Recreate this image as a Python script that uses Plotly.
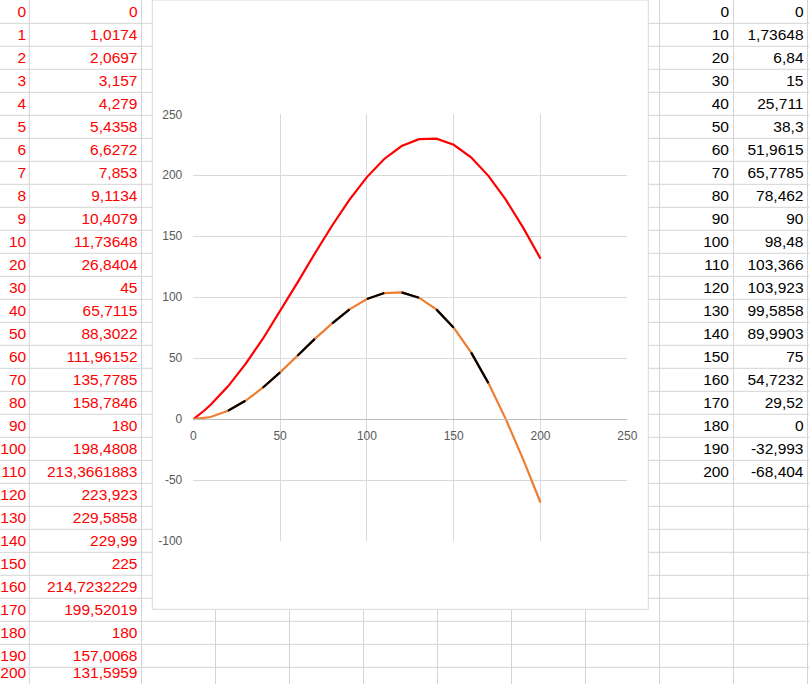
import plotly.graph_objects as go

# left block of the sheet (red curve)
red_x = [0, 1, 2, 3, 4, 5, 6, 7, 8, 9, 10,
         20, 30, 40, 50, 60, 70, 80, 90, 100, 110, 120, 130, 140, 150,
         160, 170, 180, 190, 200]
red_y = [0, 1.0174, 2.0697, 3.157, 4.279, 5.4358, 6.6272, 7.853, 9.1134, 10.4079, 11.73648,
         26.8404, 45, 65.7115, 88.3022, 111.96152, 135.7785, 158.7846, 180, 198.4808,
         213.3661883, 223.923, 229.5858, 229.99, 225, 214.7232229, 199.52019, 180,
         157.0068, 131.5959]

# right block of the sheet (orange / black curve)
org_x = [0, 10, 20, 30, 40, 50, 60, 70, 80, 90, 100,
         110, 120, 130, 140, 150, 160, 170, 180, 190, 200]
org_y = [0, 1.73648, 6.84, 15, 25.711, 38.3, 51.9615, 65.7785, 78.462, 90, 98.48,
         103.366, 103.923, 99.5858, 89.9903, 75, 54.7232, 29.52, 0, -32.993, -68.404]

# chart axis ticks
x_ticks = [0, 50, 100, 150, 200, 250]
y_ticks = [-100, -50, 0, 50, 100, 150, 200, 250]

W, H = 809, 684
ROW_H = 23.0
ROW0 = 0.3
COL_LINES = [29.3, 141.5, 215.5, 289.5, 363.5, 437.5, 511.5, 585.5, 659.5, 733.5, 807.5]
CHART = dict(x0=152.3, x1=648.3, y1=609.3)   # chart object box (top is off screen)
PLOT = dict(left=193.3, right=627.3, top=114.3, bottom=541.0)  # plot area in px
GRID = "#D4D4D4"


def cell_text(v):
    return str(v).replace(".", ",")


def sheet_lines():
    shapes = []
    n_rows = int((H - ROW0) // ROW_H) + 1
    for k in range(1, n_rows + 1):
        y = ROW0 + k * ROW_H
        if y > H:
            break
        if y < CHART["y1"]:
            spans = [(0, CHART["x0"]), (CHART["x1"], W)]
        else:
            spans = [(0, W)]
        for a, b in spans:
            shapes.append(dict(type="line", xref="x2", yref="y2", x0=a, x1=b, y0=y, y1=y,
                               line=dict(color=GRID, width=1)))
    for x in COL_LINES:
        if CHART["x0"] < x < CHART["x1"]:
            y0 = CHART["y1"]
        else:
            y0 = 0
        shapes.append(dict(type="line", xref="x2", yref="y2", x0=x, x1=x, y0=y0, y1=H,
                           line=dict(color=GRID, width=1)))
    shapes.append(dict(type="rect", xref="x2", yref="y2", x0=CHART["x0"], x1=CHART["x1"],
                       y0=0, y1=CHART["y1"], line=dict(color="#D9D9D9", width=1),
                       fillcolor="rgba(0,0,0,0)"))
    return shapes


def row_centers(n):
    # the last visible row is cut by the window; keep its text just inside the page
    return [min(ROW0 + ROW_H * k + 12.9, H - 9.5) for k in range(n)]


fig = go.Figure()

sheet_font = dict(family="Liberation Sans", size=15.5)
left_rows = row_centers(len(red_x))
right_rows = row_centers(len(org_x))
fig.add_trace(go.Scatter(x=[26.2] * len(red_x), y=left_rows, text=[cell_text(v) for v in red_x],
                         mode="text", textposition="middle left", xaxis="x2", yaxis="y2",
                         textfont=dict(color="#FF0000", **sheet_font), hoverinfo="skip"))
fig.add_trace(go.Scatter(x=[137.5] * len(red_y), y=left_rows, text=[cell_text(v) for v in red_y],
                         mode="text", textposition="middle left", xaxis="x2", yaxis="y2",
                         textfont=dict(color="#FF0000", **sheet_font), hoverinfo="skip"))
fig.add_trace(go.Scatter(x=[729] * len(org_x), y=right_rows, text=[cell_text(v) for v in org_x],
                         mode="text", textposition="middle left", xaxis="x2", yaxis="y2",
                         textfont=dict(color="#000000", **sheet_font), hoverinfo="skip"))
fig.add_trace(go.Scatter(x=[803.5] * len(org_y), y=right_rows, text=[cell_text(v) for v in org_y],
                         mode="text", textposition="middle left", xaxis="x2", yaxis="y2",
                         textfont=dict(color="#000000", **sheet_font), hoverinfo="skip"))

# chart series
fig.add_trace(go.Scatter(x=red_x, y=red_y, mode="lines",
                         line=dict(color="#FF0000", width=2.2)))
fig.add_trace(go.Scatter(x=org_x, y=org_y, mode="lines",
                         line=dict(color="#ED7D31", width=2.2)))

# every other segment from 20 to 170 is drawn black
blk_x, blk_y = [], []
for i in range(2, 17, 2):
    blk_x += [org_x[i], org_x[i + 1], None]
    blk_y += [org_y[i], org_y[i + 1], None]
fig.add_trace(go.Scatter(x=blk_x, y=blk_y, mode="lines",
                         line=dict(color="#000000", width=2.2)))

tick_font = dict(family="Liberation Sans", size=12, color="#595959")
y_zero_px = PLOT["top"] + (PLOT["bottom"] - PLOT["top"]) * 250 / 350

fig.update_layout(
    width=W, height=H,
    margin=dict(l=0, r=0, t=0, b=0, pad=0, autoexpand=False),
    paper_bgcolor="white",
    plot_bgcolor="rgba(0,0,0,0)",
    showlegend=False,
    shapes=sheet_lines(),
    xaxis=dict(domain=[PLOT["left"] / W, PLOT["right"] / W], range=[0, 250],
               tickvals=x_ticks, ticktext=[str(v) for v in x_ticks],
               showgrid=True, gridcolor="#D9D9D9", gridwidth=1, zeroline=False,
               showline=True, linecolor="#BFBFBF", linewidth=1,
               anchor="free", position=(H - y_zero_px) / H, automargin=False,
               ticks="", tickfont=tick_font, ticklabelstandoff=6, fixedrange=True),
    yaxis=dict(domain=[(H - PLOT["bottom"]) / H, (H - PLOT["top"]) / H], range=[-100, 250],
               tickvals=y_ticks, ticktext=[str(v) for v in y_ticks],
               showgrid=True, gridcolor="#D9D9D9", gridwidth=1, zeroline=False,
               showline=False, ticks="", tickfont=tick_font, ticklabelstandoff=10,
               automargin=False, fixedrange=True),
    xaxis2=dict(domain=[0, 1], range=[0, W], visible=False, anchor="y2",
                automargin=False, fixedrange=True),
    yaxis2=dict(domain=[0, 1], range=[H, 0], visible=False, anchor="x2",
                automargin=False, fixedrange=True),
)

fig.write_html("out.html", config=dict(displayModeBar=False),
               post_script="document.body.style.margin='0';document.body.style.padding='0';")
